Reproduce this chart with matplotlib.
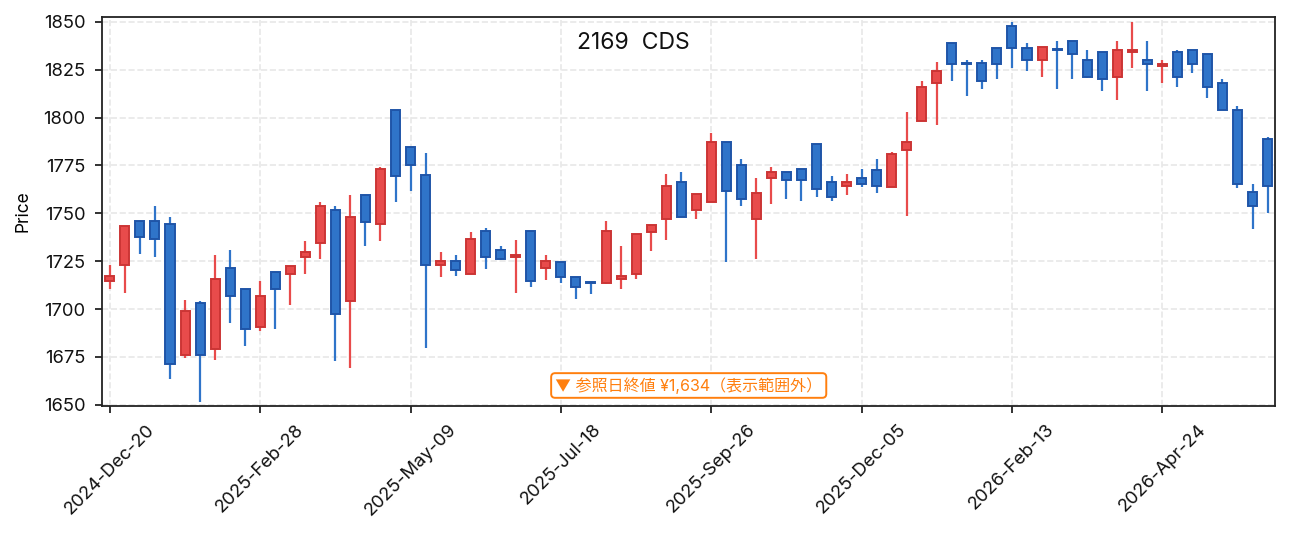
import pandas as pd
import matplotlib
matplotlib.use('Agg')
import matplotlib.pyplot as plt

plt.rcParams['font.family'] = ['Inter', 'Noto Sans CJK JP', 'DejaVu Sans']

# weekly candles for 2169 CDS
start_date = '2024-12-20'
opens = [1714.6, 1722.8, 1746.2, 1746.2, 1744.6, 1676.0, 1703.3, 1679.1, 1721.6, 1710.6,
         1690.8, 1719.3, 1718.3, 1727.2, 1734.5, 1751.9, 1704.2, 1759.7, 1744.4, 1804.2,
         1784.8, 1770.2, 1723.0, 1725.3, 1718.3, 1740.5, 1731.0, 1727.0, 1740.5, 1721.4,
         1724.7, 1716.9, 1714.0, 1713.4, 1715.7, 1718.3, 1740.3, 1747.0, 1766.5, 1751.7,
         1755.9, 1787.4, 1775.4, 1747.0, 1768.5, 1771.8, 1773.3, 1786.4, 1766.5, 1764.3,
         1768.6, 1772.5, 1763.8, 1782.9, 1798.3, 1818.1, 1839.2, 1828.6, 1828.3, 1836.6,
         1848.1, 1836.6, 1830.0, 1835.7, 1840.2, 1830.3, 1834.5, 1821.3, 1834.2, 1830.3,
         1827.0, 1834.5, 1835.5, 1833.4, 1818.3, 1804.2, 1761.3, 1789.0]
highs = [1723.0, 1743.4, 1746.2, 1753.8, 1748.1, 1704.7, 1704.0, 1728.1, 1730.8, 1710.6,
         1714.6, 1719.3, 1722.6, 1735.5, 1755.8, 1753.8, 1759.6, 1759.7, 1774.1, 1804.2,
         1784.8, 1781.4, 1729.6, 1728.1, 1740.3, 1742.2, 1732.8, 1736.1, 1740.5, 1728.1,
         1724.7, 1716.9, 1714.2, 1746.0, 1732.9, 1739.4, 1744.1, 1770.6, 1771.6, 1760.0,
         1791.8, 1787.4, 1778.4, 1768.3, 1774.2, 1771.8, 1773.3, 1786.4, 1769.5, 1770.6,
         1773.2, 1778.4, 1781.9, 1803.0, 1819.2, 1829.1, 1839.2, 1830.1, 1830.1, 1836.6,
         1849.8, 1839.0, 1837.1, 1839.9, 1840.2, 1835.4, 1834.5, 1840.0, 1850.0, 1840.0,
         1830.1, 1835.4, 1835.5, 1833.4, 1820.0, 1805.9, 1765.3, 1789.7]
lows = [1710.3, 1708.5, 1728.9, 1727.2, 1663.6, 1674.6, 1651.6, 1673.5, 1692.9, 1680.8,
        1688.7, 1689.7, 1702.3, 1718.5, 1726.3, 1672.7, 1669.3, 1733.1, 1735.7, 1756.1,
        1761.8, 1679.5, 1716.6, 1717.4, 1718.3, 1720.8, 1725.6, 1708.2, 1711.7, 1715.0,
        1713.8, 1705.1, 1708.0, 1713.0, 1710.6, 1715.8, 1730.5, 1736.2, 1747.9, 1747.2,
        1755.9, 1724.7, 1754.0, 1726.3, 1755.0, 1757.7, 1756.6, 1758.7, 1756.6, 1759.7,
        1763.9, 1760.8, 1763.8, 1748.6, 1798.3, 1796.3, 1819.3, 1811.5, 1815.1, 1820.4,
        1826.1, 1824.4, 1821.4, 1815.1, 1820.4, 1820.6, 1814.1, 1809.4, 1826.1, 1814.1,
        1818.3, 1816.2, 1823.5, 1810.3, 1804.0, 1763.4, 1742.0, 1750.3]
closes = [1717.4, 1743.4, 1737.5, 1736.4, 1671.3, 1699.0, 1676.0, 1715.8, 1706.8, 1689.6,
          1707.0, 1710.6, 1722.6, 1730.0, 1754.0, 1697.4, 1748.1, 1745.5, 1773.3, 1769.7,
          1775.3, 1723.0, 1725.3, 1720.4, 1736.8, 1727.0, 1726.1, 1728.4, 1714.6, 1725.3,
          1716.7, 1711.5, 1713.6, 1740.9, 1717.4, 1739.4, 1744.1, 1764.5, 1747.9, 1760.0,
          1787.4, 1761.5, 1757.5, 1760.8, 1771.8, 1767.4, 1767.4, 1762.7, 1758.5, 1766.5,
          1765.3, 1764.3, 1780.9, 1787.4, 1816.2, 1824.5, 1828.0, 1828.0, 1819.0, 1828.0,
          1836.3, 1830.0, 1837.1, 1835.2, 1833.3, 1821.3, 1820.2, 1835.5, 1835.5, 1828.0,
          1828.2, 1821.3, 1828.0, 1816.0, 1804.0, 1765.3, 1753.8, 1764.3]

ticker = '2169  CDS'
note = '▼ 参照日終値 ¥1,634（表示範囲外）'

dates = pd.date_range(start_date, periods=len(opens), freq='7D')
df = pd.DataFrame({'open': opens, 'high': highs, 'low': lows, 'close': closes}, index=dates)

up_face, up_edge = '#e84b4b', '#cc3535'
dn_face, dn_edge = '#2f74c9', '#1f55a8'

fig = plt.figure(figsize=(12.89, 5.34), dpi=100)
ax = fig.add_axes([0.0794, 0.2403, 0.9098, 0.7273])

x = list(range(len(df)))
is_up = df['close'] >= df['open']
faces = [up_face if u else dn_face for u in is_up]
edges = [up_edge if u else dn_edge for u in is_up]

# wicks
ax.vlines(x, df['low'], df['high'], colors=faces, linewidth=1.6, zorder=2)

# bodies
bottoms = df[['open', 'close']].min(axis=1)
heights = (df['close'] - df['open']).abs().clip(lower=0.6)
ax.bar(x, heights, bottom=bottoms, width=0.6, color=faces, edgecolor=edges,
       linewidth=1.4, zorder=3)

ax.set_xlim(-0.5, len(df) - 0.5)
ax.set_ylim(1649.5, 1852.4)
ax.set_yticks([1650, 1675, 1700, 1725, 1750, 1775, 1800, 1825, 1850])

tick_pos = x[::10]
ax.set_xticks(tick_pos)
ax.set_xticklabels([d.strftime('%Y-%b-%d') for d in df.index[::10]], rotation=45, ha='center')

ax.grid(True, linestyle='--', color='#e8e8e8', linewidth=1.2, zorder=0)
ax.set_axisbelow(True)

for sp in ax.spines.values():
    sp.set_color('#222222')
    sp.set_linewidth(1.3)
ax.tick_params(axis='both', colors='#222222', labelcolor='#111111', length=5, width=1.3,
               labelsize=13.2)
ax.tick_params(axis='y', pad=7)
ax.tick_params(axis='x', pad=6)

ax.set_ylabel('Price', fontsize=12.5, labelpad=9)

ax.text(0.453, 0.934, ticker, transform=ax.transAxes, ha='center', va='center',
        fontsize=16.5, color='#111111')

ax.text(0.5, 0.052, note, transform=ax.transAxes, ha='center', va='center',
        fontsize=11.5, color='#ff7f0e',
        bbox=dict(boxstyle='round,pad=0.25', facecolor='white', edgecolor='#ff7f0e',
                  linewidth=1.4))

plt.savefig('out.png', dpi=100)
